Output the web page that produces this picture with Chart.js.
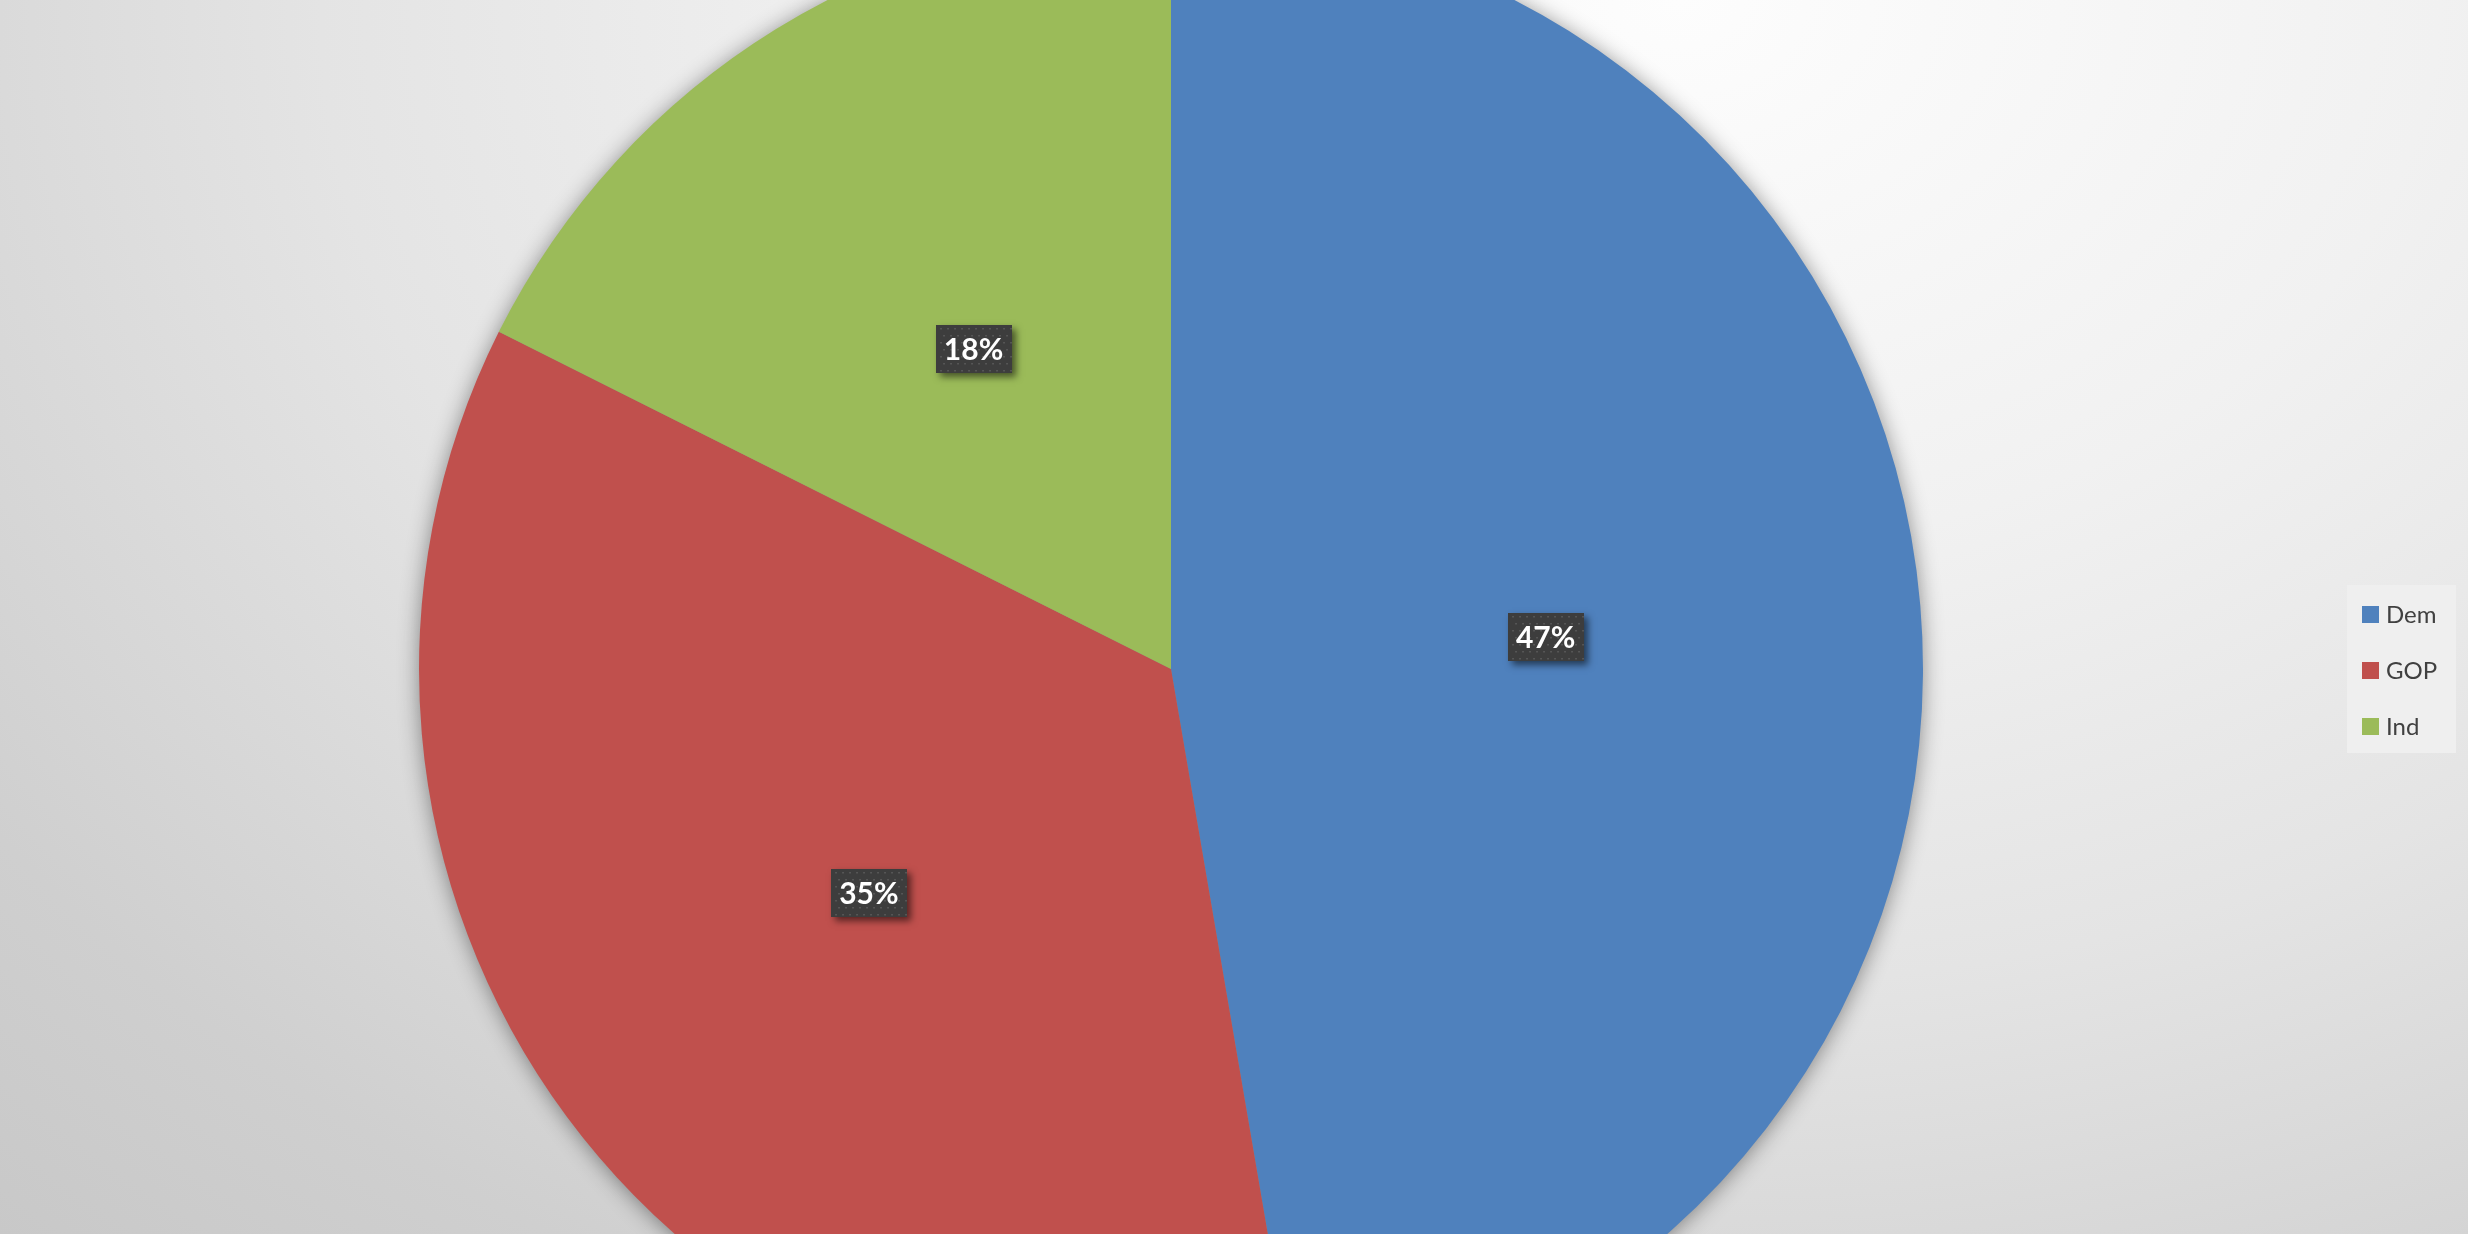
<!DOCTYPE html>
<html>
<head>
<meta charset="utf-8">
<script src="https://cdn.jsdelivr.net/npm/chart.js@4.4.1/dist/chart.umd.min.js"></script>
<style>
html, body { margin: 0; padding: 0; width: 2468px; height: 1234px; overflow: hidden; }
body { background: radial-gradient(ellipse 110% 160% at 68% 0%, #fdfdfd 0%, #f1f1f1 28%, #e4e4e4 50%, #d9d9d9 63%, #cfcfcf 75%, #c8c8c8 88%); }
#wrap { position: absolute; left: 0; top: 0; width: 2468px; height: 1234px; }
</style>
</head>
<body>
<div id="wrap"><canvas id="partyChart"></canvas></div>
<script>
// Party share data
const partyLabels = ['Dem', 'GOP', 'Ind'];
const partyShares = [47.3, 35.1, 17.6];
const partyColors = ['#4F81BD', '#C0504D', '#9BBB59'];

// soft shadow under the whole pie
const pieShadow = {
    id: 'pieShadow',
    beforeDatasetsDraw(chart) {
        const arc = chart.getDatasetMeta(0).data[0];
        if (!arc) return;
        const ctx = chart.ctx;
        ctx.save();
        ctx.shadowColor = 'rgba(0, 0, 0, 0.45)';
        ctx.shadowBlur = 22;
        ctx.shadowOffsetX = 0;
        ctx.shadowOffsetY = 2;
        ctx.fillStyle = '#8a8a8a';
        ctx.beginPath();
        ctx.arc(arc.x, arc.y, arc.outerRadius - 1, 0, Math.PI * 2);
        ctx.fill();
        ctx.restore();
    }
};

// dark percent boxes like the office data labels
const pctLabels = {
    id: 'pctLabels',
    afterDatasetsDraw(chart) {
        const ctx = chart.ctx;
        const meta = chart.getDatasetMeta(0);
        const total = partyShares.reduce((a, b) => a + b, 0);
        meta.data.forEach((arc, i) => {
            const pos = arc.tooltipPosition();
            const text = Math.round(partyShares[i] / total * 100) + '%';
            const w = 76, h = 48;
            const x = Math.round(pos.x - w / 2), y = Math.round(pos.y - h / 2);
            ctx.save();
            ctx.shadowColor = 'rgba(0, 0, 0, 0.55)';
            ctx.shadowBlur = 7;
            ctx.shadowOffsetX = 4;
            ctx.shadowOffsetY = 4;
            ctx.fillStyle = '#3d3d3d';
            ctx.fillRect(x, y, w, h);
            ctx.restore();
            // faint dot pattern
            ctx.save();
            ctx.fillStyle = 'rgba(120, 120, 120, 0.55)';
            for (let dy = 3; dy < h; dy += 7) {
                for (let dx = 3 + ((dy / 7) % 2) * 3; dx < w; dx += 7) {
                    ctx.fillRect(x + dx, y + dy, 1.5, 1.5);
                }
            }
            ctx.fillStyle = '#ffffff';
            ctx.font = 'bold 30px Lato, "Open Sans", sans-serif';
            ctx.textAlign = 'center';
            ctx.textBaseline = 'middle';
            ctx.fillText(text, pos.x, pos.y + 1);
            ctx.restore();
        });
    }
};

// legend box on the right
const sideLegend = {
    id: 'sideLegend',
    afterDraw(chart) {
        const ctx = chart.ctx;
        const left = 2347, top = 585, width = 109, height = 168;
        ctx.save();
        ctx.fillStyle = 'rgba(240, 240, 240, 0.9)';
        ctx.fillRect(left, top, width, height);
        ctx.font = '24px Lato, "Open Sans", sans-serif';
        ctx.textBaseline = 'middle';
        ctx.textAlign = 'left';
        partyLabels.forEach((label, i) => {
            const cy = 614 + i * 56;
            ctx.fillStyle = partyColors[i];
            ctx.fillRect(left + 15, cy - 8, 17, 17);
            ctx.fillStyle = '#404040';
            ctx.fillText(label, left + 39, cy + 1);
        });
        ctx.restore();
    }
};

const partyChart = new Chart(document.getElementById('partyChart').getContext('2d'), {
    type: 'pie',
    data: {
        labels: partyLabels,
        datasets: [{
            data: partyShares,
            backgroundColor: partyColors,
            borderWidth: 0,
            radius: 752,
        }]
    },
    options: {
        responsive: true,
        maintainAspectRatio: false,
        animation: false,
        events: [],
        layout: {
            padding: { top: 104, right: 126, left: 0, bottom: 0 }
        },
        plugins: {
            legend: { display: false },
            tooltip: { enabled: false },
        },
    },
    plugins: [pieShadow, pctLabels, sideLegend]
});
</script>
</body>
</html>
